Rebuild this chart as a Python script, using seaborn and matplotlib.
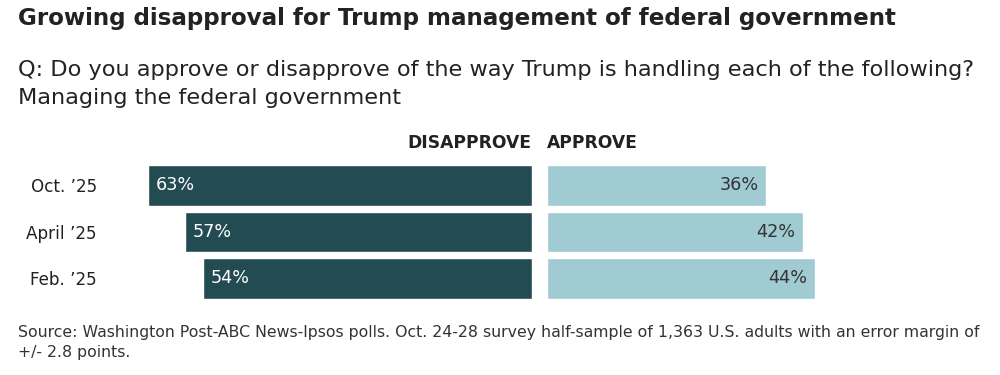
import matplotlib.pyplot as plt
import seaborn as sns

# poll data (Washington Post-ABC News-Ipsos)
periods = ["Oct. \u201925", "April \u201925", "Feb. \u201925"]
disapprove = [63, 57, 54]
approve = [36, 42, 44]

dark = "#234b52"
light = "#a0cbd2"
txt = "#222222"

sns.set_style("white")
plt.rcParams["font.family"] = ["DejaVu Sans"]

W, H = 1000, 375
fig = plt.figure(figsize=(10, 3.75), dpi=100)

# pixel helpers
def fx(px):
    return px / W

def fy(px):
    return 1 - px / H

scale = 6.09  # px per percentage point
span = 70
ax_w = span * scale
ax_top, ax_bot = 162.2, 301.7

ax_l = fig.add_axes([fx(532 - ax_w), fy(ax_bot), fx(ax_w), (ax_bot - ax_top) / H])
ax_r = fig.add_axes([fx(547), fy(ax_bot), fx(ax_w), (ax_bot - ax_top) / H])

sns.barplot(x=disapprove, y=periods, ax=ax_l, color=dark, saturation=1,
            width=0.87, orient="h")
sns.barplot(x=approve, y=periods, ax=ax_r, color=light, saturation=1,
            width=0.87, orient="h")

ax_l.set_xlim(span, 0)
ax_r.set_xlim(0, span)
for ax in (ax_l, ax_r):
    ax.set_ylim(2.5, -0.5)
    ax.set_xlabel("")
    ax.set_ylabel("")
    ax.set_xticks([])
    sns.despine(ax=ax, left=True, bottom=True)
    ax.patch.set_alpha(0)

ax_l.tick_params(axis="y", length=0, pad=6.5, labelsize=12.1, labelcolor=txt)
ax_r.set_yticks([])

# value labels
for i, v in enumerate(disapprove):
    ax_l.text(v - 1.3, i, f"{v}%", ha="left", va="center", color="white",
              fontsize=12.7)
for i, v in enumerate(approve):
    ax_r.text(v - 1.3, i, f"{v}%", ha="right", va="center", color="#333333",
              fontsize=12.7)

# column headers
fig.text(fx(531), fy(143), "DISAPPROVE", ha="right", va="center",
         fontsize=12.3, fontweight="bold", color=txt)
fig.text(fx(547), fy(143), "APPROVE", ha="left", va="center",
         fontsize=12.3, fontweight="bold", color=txt)

# title / subtitle / source
fig.text(fx(18), fy(18), "Growing disapproval for Trump management of federal government",
         ha="left", va="center", fontsize=16.6, fontweight="bold", color=txt)
fig.text(fx(18), fy(70),
         "Q: Do you approve or disapprove of the way Trump is handling each of the following?",
         ha="left", va="center", fontsize=16.1, color=txt)
fig.text(fx(18), fy(98), "Managing the federal government",
         ha="left", va="center", fontsize=16.1, color=txt)
fig.text(fx(18), fy(333),
         "Source: Washington Post-ABC News-Ipsos polls. Oct. 24-28 survey half-sample of 1,363 U.S. adults with an error margin of",
         ha="left", va="center", fontsize=11.3, color="#333333")
fig.text(fx(18), fy(353), "+/- 2.8 points.",
         ha="left", va="center", fontsize=11.3, color="#333333")

fig.savefig("out.png", dpi=100)
